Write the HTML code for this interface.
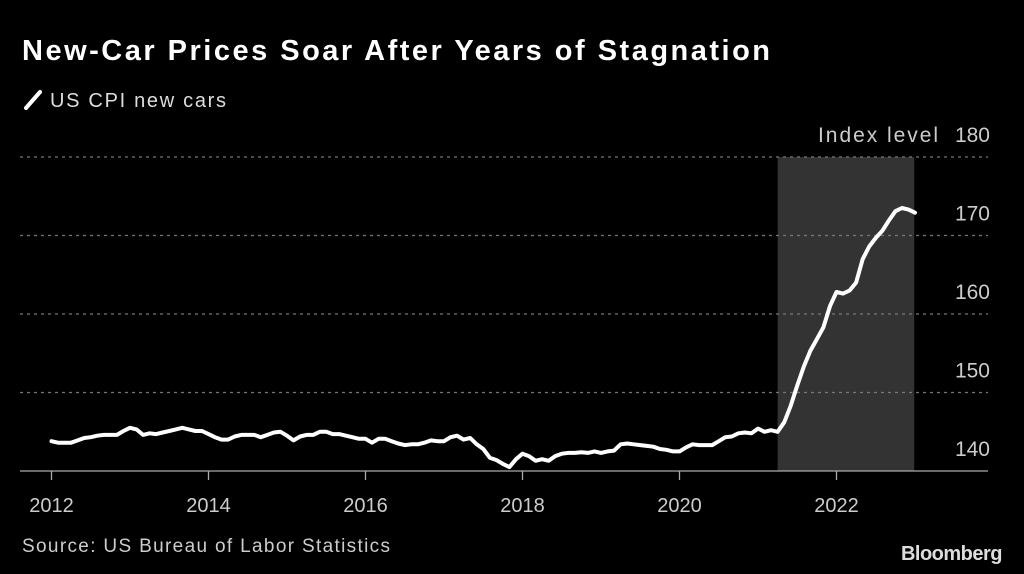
<!DOCTYPE html>
<html><head><meta charset="utf-8">
<style>
html,body{margin:0;padding:0;background:#000;}
body{width:1024px;height:574px;overflow:hidden;font-family:"Liberation Sans",sans-serif;}
</style></head>
<body>
<svg id="chart" width="1024" height="574" xmlns="http://www.w3.org/2000/svg" style="display:block">
  <rect width="1024" height="574" fill="#000"/>
  <text x="22" y="60" fill="#fff" font-size="29" font-weight="bold" textLength="748" lengthAdjust="spacing" font-family="Liberation Sans, sans-serif">New-Car Prices Soar After Years of Stagnation</text>
  <g>
    <line x1="26" y1="108" x2="40" y2="92" stroke="#fff" stroke-width="4" stroke-linecap="round"/>
    <text x="50" y="107" fill="#ddd" font-size="20" textLength="176" lengthAdjust="spacing" font-family="Liberation Sans, sans-serif">US CPI new cars</text>
  </g>
  <g id="plot"></g>
  <text x="22" y="552" fill="#ccc" font-size="19" textLength="368" lengthAdjust="spacing" font-family="Liberation Sans, sans-serif">Source: US Bureau of Labor Statistics</text>
  <text x="1002" y="560" text-anchor="end" fill="#ddd" font-size="20" font-weight="bold" letter-spacing="-0.5" font-family="Liberation Sans, sans-serif">Bloomberg</text>
</svg>
<script>
const startYear = 2012;
const cpiValues = [
143.8,143.6,143.6,143.6,143.9,144.2,144.3,144.5,144.6,144.6,144.6,145.1,
145.5,145.3,144.6,144.8,144.7,144.9,145.1,145.3,145.5,145.3,145.1,145.1,
144.7,144.3,144.0,144.0,144.4,144.6,144.6,144.6,144.3,144.6,144.9,145.0,
144.5,143.9,144.4,144.6,144.6,145.0,145.0,144.7,144.7,144.5,144.3,144.1,
144.1,143.6,144.1,144.1,143.8,143.5,143.3,143.4,143.4,143.6,143.9,143.8,
143.8,144.3,144.5,144.0,144.2,143.4,142.8,141.7,141.4,140.9,140.5,141.5,
142.2,141.9,141.3,141.5,141.3,141.9,142.2,142.3,142.3,142.4,142.3,142.5,
142.3,142.5,142.6,143.4,143.5,143.4,143.3,143.2,143.1,142.8,142.7,142.5,
142.5,143.0,143.4,143.3,143.3,143.3,143.8,144.3,144.4,144.8,144.9,144.8,
145.4,145.0,145.2,145.0,146.2,148.3,150.9,153.3,155.3,156.8,158.3,161.0,
162.8,162.6,163.0,164.0,167.0,168.6,169.7,170.6,171.9,173.1,173.5,173.3,
172.9];
const yTicks = [140,150,160,170,180];
const xTickYears = [2012,2014,2016,2018,2020,2022];
const shadeRange = [2021.25, 2022.99];

const NS = "http://www.w3.org/2000/svg";
const plot = document.getElementById('plot');
function xs(t){ return 51.5 + (t - 2012) * 78.5; }
function ys(v){ return 471 - (v - 140) * 7.85; }
function mk(tag, attrs){ const e=document.createElementNS(NS,tag); for(const k in attrs) e.setAttribute(k,attrs[k]); plot.appendChild(e); return e; }

const shade = mk('rect',{x:xs(shadeRange[0]),y:ys(180),width:xs(shadeRange[1])-xs(shadeRange[0]),height:ys(140)-ys(180),fill:'#333'});



yTicks.forEach(v=>{
  if(v>140){
    const g = mk('line',{x1:20,x2:988,y1:ys(v),y2:ys(v),stroke:'#777','stroke-width':1.3,'stroke-dasharray':'3,4'});
    
    
  }
  const t = mk('text',{x:990,y:ys(v)-15,'text-anchor':'end',fill:'#ccc','font-size':21,'font-family':'Liberation Sans, sans-serif'});
  t.textContent = v;
  
  
});
const yt = mk('text',{x:818,y:ys(180)-15,fill:'#ccc','font-size':21,textLength:120,lengthAdjust:'spacing','font-family':'Liberation Sans, sans-serif'});
yt.textContent = 'Index level';



const ax = mk('line',{x1:20,x2:988,y1:471,y2:471,stroke:'#aaa','stroke-width':1.3});


xTickYears.forEach(yr=>{
  const x = xs(yr);
  const tk = mk('line',{x1:x,x2:x,y1:471,y2:480,stroke:'#aaa','stroke-width':1.3});
  
  
  const t = mk('text',{x:x,y:512,'text-anchor':'middle',fill:'#ccc','font-size':20,'font-family':'Liberation Sans, sans-serif'});
  t.textContent = yr;
  
  
});

const pts = cpiValues.map((v,i)=> xs(startYear + i/12).toFixed(1)+','+ys(v).toFixed(1)).join(' ');
const line = mk('polyline',{points:pts,fill:'none',stroke:'#fff','stroke-width':4,'stroke-linejoin':'round','stroke-linecap':'round'});


</script>
</body></html>
